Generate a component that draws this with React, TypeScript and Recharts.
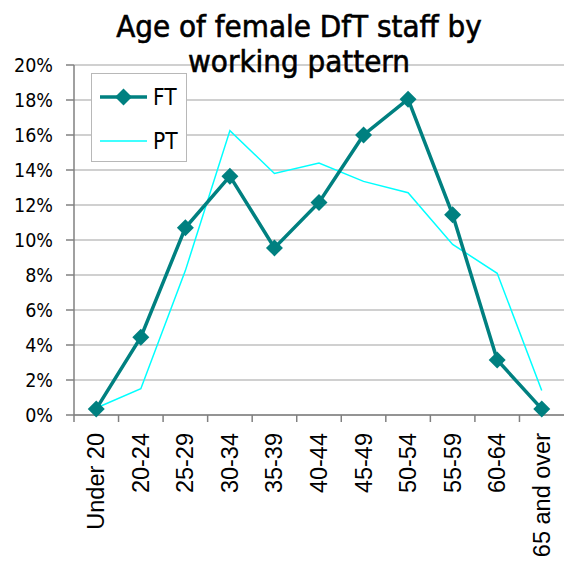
import React from 'react';
import { LineChart, Line, XAxis, YAxis, CartesianGrid, Legend, Customized } from 'recharts';

const categories = ['Under 20', '20-24', '25-29', '30-34', '35-39', '40-44', '45-49', '50-54', '55-59', '60-64', '65 and over'];
const ftValues = [0.35, 4.45, 10.7, 13.65, 9.55, 12.15, 16.0, 18.05, 11.45, 3.15, 0.35];
const ptValues = [0.4, 1.5, 8.25, 16.25, 13.8, 14.4, 13.35, 12.7, 9.75, 8.1, 1.4];
const yTicks = [0, 2, 4, 6, 8, 10, 12, 14, 16, 18, 20];
const titleLines = ['Age of female DfT staff by', 'working pattern'];
const seriesOrder = ['FT', 'PT'];

const data = categories.map((c, i) => ({ age: c, FT: ftValues[i], PT: ptValues[i] }));

const FT_COLOR = '#008080';
const PT_COLOR = '#00FFFF';
const AXIS_COLOR = '#808080';
const GRID_COLOR = '#c0c0c0';
const X_TICK_SIZE = 7;
const X_TICK_MARGIN = 11;
const FONT = '"DejaVu Sans Condensed", "DejaVu Sans", sans-serif';
const XFONT = '"Liberation Sans", Arial, sans-serif';

const Diamond = (props: any) => {
  const { cx, cy, fill, r = 8.5 } = props;
  if (cx == null || cy == null) return null;
  return (
    <polygon
      points={`${cx},${cy - r} ${cx + r},${cy} ${cx},${cy + r} ${cx - r},${cy}`}
      fill={fill}
      stroke="none"
    />
  );
};

const XTick = (props: any) => {
  const { x, y, payload } = props;
  const half = payload && typeof payload.offset === 'number' ? payload.offset : 22.3;
  const axisY = y - X_TICK_SIZE - X_TICK_MARGIN;
  return (
    <g>
      <line x1={x - half} x2={x - half} y1={axisY} y2={axisY + X_TICK_SIZE} stroke={AXIS_COLOR} strokeWidth={1.5} />
      <text
        transform={`translate(${x + 8},${y}) rotate(-90)`}
        textAnchor="end"
        fontSize={23.5}
        fill="#000"
        fontFamily={XFONT}
        style={{ fontStretch: 'normal' }}
      >
        {payload.value}
      </text>
    </g>
  );
};

const LegendBox = (props: any) => {
  const payload: any[] = props.payload || [];
  const items = seriesOrder
    .map((n) => payload.find((p) => p.value === n || p.dataKey === n))
    .filter(Boolean);
  return (
    <div
      style={{
        width: 96,
        height: 89,
        boxSizing: 'border-box',
        border: '1px solid #b8b8b8',
        background: '#fff',
      }}
    >
      <svg width={94} height={87} style={{ display: 'block' }}>
        {items.map((it: any, i: number) => {
          const cy = 23 + i * 44;
          const isFT = it.value === 'FT';
          return (
            <g key={it.value}>
              <line x1={8} x2={55} y1={cy} y2={cy} stroke={it.color} strokeWidth={isFT ? 3.5 : 1.5} />
              {isFT && <Diamond cx={31.5} cy={cy} fill={it.color} />}
              <text x={61} y={cy + 8} fontSize={22.5} fill="#000" fontFamily={FONT} style={{ fontStretch: 'condensed' }}>
                {it.value}
              </text>
            </g>
          );
        })}
      </svg>
    </div>
  );
};

const Title = () => (
  <g>
    {titleLines.map((t, i) => (
      <text
        key={i}
        x={299}
        y={37 + i * 35}
        textAnchor="middle"
        fontSize={31}
        fill="#000"
        stroke="#000"
        strokeWidth={0.6}
        fontFamily={FONT}
        style={{ fontStretch: 'condensed' }}
      >
        {t}
      </text>
    ))}
  </g>
);

export default function App() {
  return (
    <div style={{ position: 'absolute', left: 0, top: 0, fontFamily: FONT, fontStretch: 'condensed', background: '#fff' }}>
      <LineChart width={564} height={565} data={data} margin={{ top: 65, right: 0, bottom: 0, left: 0 }}>
        <CartesianGrid vertical={false} stroke={GRID_COLOR} strokeWidth={1.5} />
        <XAxis
          dataKey="age"
          scale="band"
          interval={0}
          height={150}
          tick={<XTick />}
          tickLine={false}
          tickSize={X_TICK_SIZE}
          tickMargin={X_TICK_MARGIN}
          axisLine={{ stroke: AXIS_COLOR, strokeWidth: 1.5 }}
        />
        <YAxis
          domain={[0, 20]}
          ticks={yTicks}
          interval={0}
          width={74}
          tickSize={8}
          tickMargin={13}
          tickFormatter={(v: number) => `${v}%`}
          tick={{ fontSize: 19.5, fill: '#000', fontFamily: FONT }}
          tickLine={{ stroke: AXIS_COLOR, strokeWidth: 1.5 }}
          axisLine={{ stroke: AXIS_COLOR, strokeWidth: 1.5 }}
        />
        <Legend
          content={<LegendBox />}
          layout="horizontal"
          verticalAlign="middle"
          align="center"
          wrapperStyle={{ position: 'absolute', left: 91, top: 73, width: 96, height: 89 }}
        />
        <Line
          type="linear"
          dataKey="PT"
          name="PT"
          stroke={PT_COLOR}
          strokeWidth={1.5}
          dot={false}
          activeDot={false}
          isAnimationActive={false}
        />
        <Line
          type="linear"
          dataKey="FT"
          name="FT"
          stroke={FT_COLOR}
          strokeWidth={3.5}
          dot={(p: any) => <Diamond key={p.index} cx={p.cx} cy={p.cy} fill={FT_COLOR} />}
          activeDot={false}
          isAnimationActive={false}
        />
        <Customized component={Title} />
      </LineChart>
    </div>
  );
}
